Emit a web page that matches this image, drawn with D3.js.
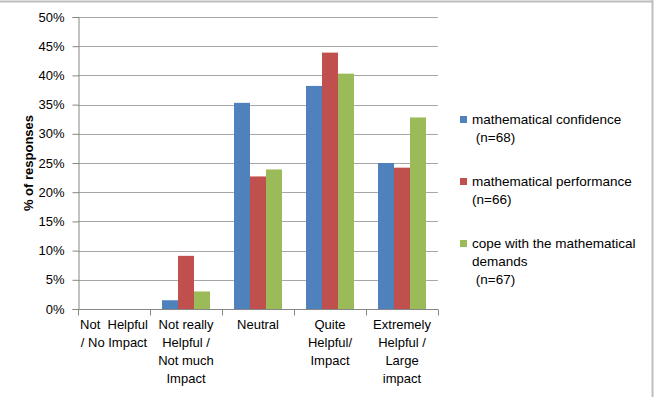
<!DOCTYPE html>
<html>
<head>
<meta charset="utf-8">
<script src="https://cdn.jsdelivr.net/npm/d3@7"></script>
<style>
  body { margin: 0; background: #fff; }
  svg { display: block; font-family: "Liberation Sans", Arial, sans-serif; }
  .tick text { fill: #000; }
</style>
</head>
<body>
<div id="chart"></div>
<script>
// Helpfulness ratings, % of responses per series
const categories = [
    ['Not  Helpful', '/ No Impact'],
    ['Not really', 'Helpful /', 'Not much', 'Impact'],
    ['Neutral'],
    ['Quite', 'Helpful/', 'Impact'],
    ['Extremely', 'Helpful /', 'Large', 'impact']
];
const seriesNames = [
    ['mathematical confidence', ' (n=68)'],
    ['mathematical performance', '(n=66)'],
    ['cope with the mathematical', 'demands', ' (n=67)']
];
const confidence = [0, 1.5, 35.3, 38.2, 25.0];
const performance = [0, 9.1, 22.7, 43.9, 24.2];
const cope = [0, 3.0, 23.9, 40.3, 32.8];
const yTicks = [0, 5, 10, 15, 20, 25, 30, 35, 40, 45, 50];
const colors = ['#4f81bd', '#c0504d', '#9bbb59'];

const W = 660, H = 397;
const margin = { top: 17, right: 222, bottom: 88, left: 78 };
const width = W - margin.left - margin.right;
const height = H - margin.top - margin.bottom;

const svg = d3.select('#chart').append('svg')
    .attr('width', W)
    .attr('height', H);

// chart border (top and right edges visible)
svg.append('line').attr('x1', 0).attr('x2', 652.5).attr('y1', 1.5).attr('y2', 1.5)
    .attr('stroke', '#bdbdbd').attr('stroke-width', 2);
svg.append('line').attr('x1', 652.5).attr('x2', 652.5).attr('y1', 0).attr('y2', H)
    .attr('stroke', '#bdbdbd').attr('stroke-width', 2);

const g = svg.append('g')
    .attr('transform', `translate(${margin.left},${margin.top})`);

const keys = categories.map((d, i) => i);
const x = d3.scaleBand().domain(keys).range([0, width]).paddingInner(0).paddingOuter(0);
// 150% gap width: bar = band / 4.5
const x1 = d3.scaleBand().domain([0, 1, 2]).range([0, x.bandwidth()]).paddingInner(0).paddingOuter(0.75);
const y = d3.scaleLinear().domain([0, 50]).range([height, 0]);

// gridlines
g.append('g').selectAll('line')
    .data(yTicks.filter(d => d > 0))
    .join('line')
    .attr('x1', 0).attr('x2', width)
    .attr('y1', d => Math.round(y(d)) + 0.5).attr('y2', d => Math.round(y(d)) + 0.5)
    .attr('stroke', '#a6a6a6');

// bars
const data = [confidence, performance, cope];
const groups = g.append('g').selectAll('g')
    .data(data)
    .join('g')
    .attr('fill', (d, i) => colors[i]);
groups.each(function(vals, si) {
    d3.select(this).selectAll('rect')
        .data(vals)
        .join('rect')
        .attr('x', (d, ci) => x(ci) + x1(si))
        .attr('width', x1.bandwidth())
        .attr('y', d => y(d))
        .attr('height', d => y(0) - y(d));
});

// y axis
const yAxis = g.append('g')
    .attr('transform', 'translate(0.5,0)')
    .call(d3.axisLeft(y).tickValues(yTicks).tickFormat(d => d + '%').tickSize(6).tickPadding(8));
yAxis.selectAll('.domain, .tick line').attr('stroke', '#868686');
yAxis.selectAll('text').style('font-size', '13px');

// x axis
const xAxis = g.append('g')
    .attr('transform', `translate(0,${height + 0.5})`);
xAxis.append('line').attr('x1', 0).attr('x2', width).attr('stroke', '#868686');
xAxis.selectAll('.xt')
    .data(d3.range(categories.length + 1))
    .join('line')
    .attr('class', 'xt')
    .attr('x1', d => Math.round(d * x.bandwidth()) + 0.5)
    .attr('x2', d => Math.round(d * x.bandwidth()) + 0.5)
    .attr('y1', 0).attr('y2', 6)
    .attr('stroke', '#868686');
xAxis.selectAll('.xl')
    .data(categories)
    .join('text')
    .attr('class', 'xl')
    .attr('text-anchor', 'middle')
    .style('font-size', '13px')
    .style('white-space', 'pre')
    .attr('transform', (d, i) => `translate(${x(i) + x.bandwidth() / 2},19)`)
    .selectAll('tspan')
    .data(d => d)
    .join('tspan')
    .attr('x', 0)
    .attr('y', (d, i) => i * 18)
    .text(d => d);

// y axis title
svg.append('text')
    .attr('transform', `translate(33,${margin.top + height / 2}) rotate(-90)`)
    .attr('text-anchor', 'middle')
    .style('font-size', '13px')
    .style('font-weight', 'bold')
    .text('% of responses');

// legend
const legendRows = [124, 186, 248];
const legend = svg.append('g');
seriesNames.forEach((lines, i) => {
    legend.append('rect')
        .attr('x', 460).attr('y', legendRows[i] - 8)
        .attr('width', 7).attr('height', 7)
        .attr('fill', colors[i]);
    legend.append('text')
        .style('font-size', '13.5px')
        .style('white-space', 'pre')
        .selectAll('tspan')
        .data(lines)
        .join('tspan')
        .attr('x', 472)
        .attr('y', (d, j) => legendRows[i] + j * 18)
        .text(d => d);
});
</script>
</body>
</html>
